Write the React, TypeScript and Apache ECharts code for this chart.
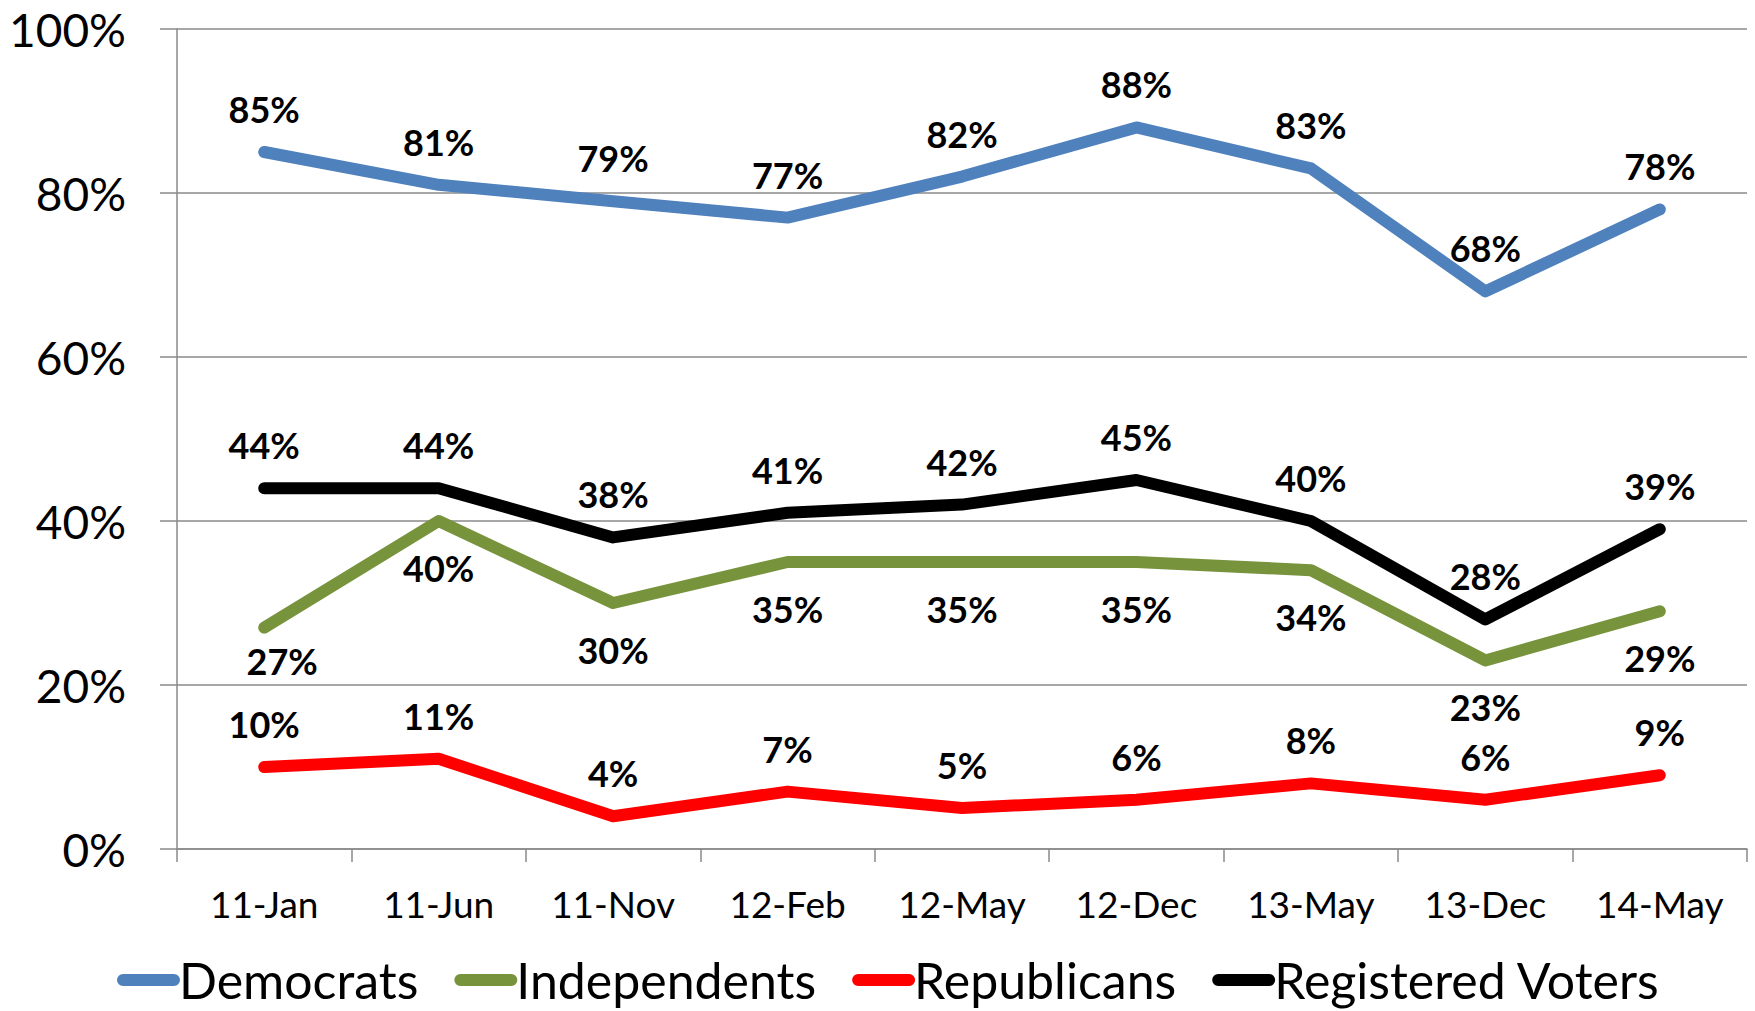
import React, { useEffect, useRef } from "react";
import * as echarts from "echarts";

const categories = ["11-Jan", "11-Jun", "11-Nov", "12-Feb", "12-May", "12-Dec", "13-May", "13-Dec", "14-May"];
const democrats = [85, 81, 79, 77, 82, 88, 83, 68, 78];
const independents = [27, 40, 30, 35, 35, 35, 34, 23, 29];
const republicans = [10, 11, 4, 7, 5, 6, 8, 6, 9];
const registeredVoters = [44, 44, 38, 41, 42, 45, 40, 28, 39];
const yTicks = [0, 20, 40, 60, 80, 100];

const FONT = "Lato, 'Open Sans', sans-serif";
const GRAY = "#8a8a8a";

function mkSeries(name: string, data: number[], color: string, below: boolean, special?: (i: number) => any) {
  return {
    name,
    type: "line",
    data: data.map((v, i) => {
      const extra = special ? special(i) : null;
      return extra ? { value: v, label: extra } : v;
    }),
    symbol: "circle",
    symbolSize: 2,
    showSymbol: true,
    itemStyle: { color },
    lineStyle: { color, width: 12, cap: "round", join: "round" },
    label: {
      show: true,
      position: below ? "bottom" : "top",
      distance: below ? 28 : 24,
      formatter: "{c}%",
      color: "#000",
      fontFamily: FONT,
      fontWeight: "bold",
      fontSize: 36,
      lineHeight: 36,
    },
    emphasis: { disabled: true },
  };
}

export default function App() {
  const ref = useRef<HTMLDivElement>(null);
  useEffect(() => {
    document.body.style.margin = "0";
    const chart = echarts.init(ref.current!, null, { renderer: "svg" });
    const legendIcon = "path://M6,0L57,0A6,6,0,0,1,57,12L6,12A6,6,0,0,1,6,0Z";
    chart.setOption({
      animation: false,
      backgroundColor: "#fff",
      grid: { left: 177, right: 8, top: 29, bottom: 162, containLabel: false },
      legend: {
        left: 117,
        top: 955,
        padding: 0,
        itemGap: 36,
        itemWidth: 63,
        itemHeight: 13,
        selectedMode: false,
        textStyle: { fontFamily: FONT, fontSize: 50, lineHeight: 48, color: "#000", padding: [0, 0, 0, -6] },
        data: [
          { name: "Democrats", icon: legendIcon },
          { name: "Independents", icon: legendIcon },
          { name: "Republicans", icon: legendIcon },
          { name: "Registered Voters", icon: legendIcon },
        ],
      },
      xAxis: {
        type: "category",
        data: categories,
        boundaryGap: true,
        axisLine: { show: true, lineStyle: { color: GRAY, width: 1.5 } },
        axisTick: { show: true, length: 13, lineStyle: { color: GRAY, width: 1.5 } },
        axisLabel: { margin: 36, color: "#000", fontFamily: FONT, fontSize: 37 },
        splitLine: { show: false },
      },
      yAxis: {
        type: "value",
        min: yTicks[0],
        max: yTicks[yTicks.length - 1],
        interval: 20,
        axisLine: { show: true, lineStyle: { color: GRAY, width: 1.5 } },
        axisTick: { show: true, length: 17, lineStyle: { color: GRAY, width: 1.5 } },
        axisLabel: { margin: 51, color: "#000", fontFamily: FONT, fontSize: 46, formatter: "{value}%" },
        splitLine: { show: true, lineStyle: { color: GRAY, width: 1.5 } },
      },
      series: [
        mkSeries("Democrats", democrats, "#4F81BD", false),
        mkSeries("Independents", independents, "#77933C", true, (i) => (i === 0 ? { offset: [18, -14] } : null)),
        mkSeries("Republicans", republicans, "#FF0000", false),
        mkSeries("Registered Voters", registeredVoters, "#000000", false),
      ],
    });
    return () => chart.dispose();
  }, []);
  return <div ref={ref} style={{ width: 1755, height: 1011 }} />;
}
